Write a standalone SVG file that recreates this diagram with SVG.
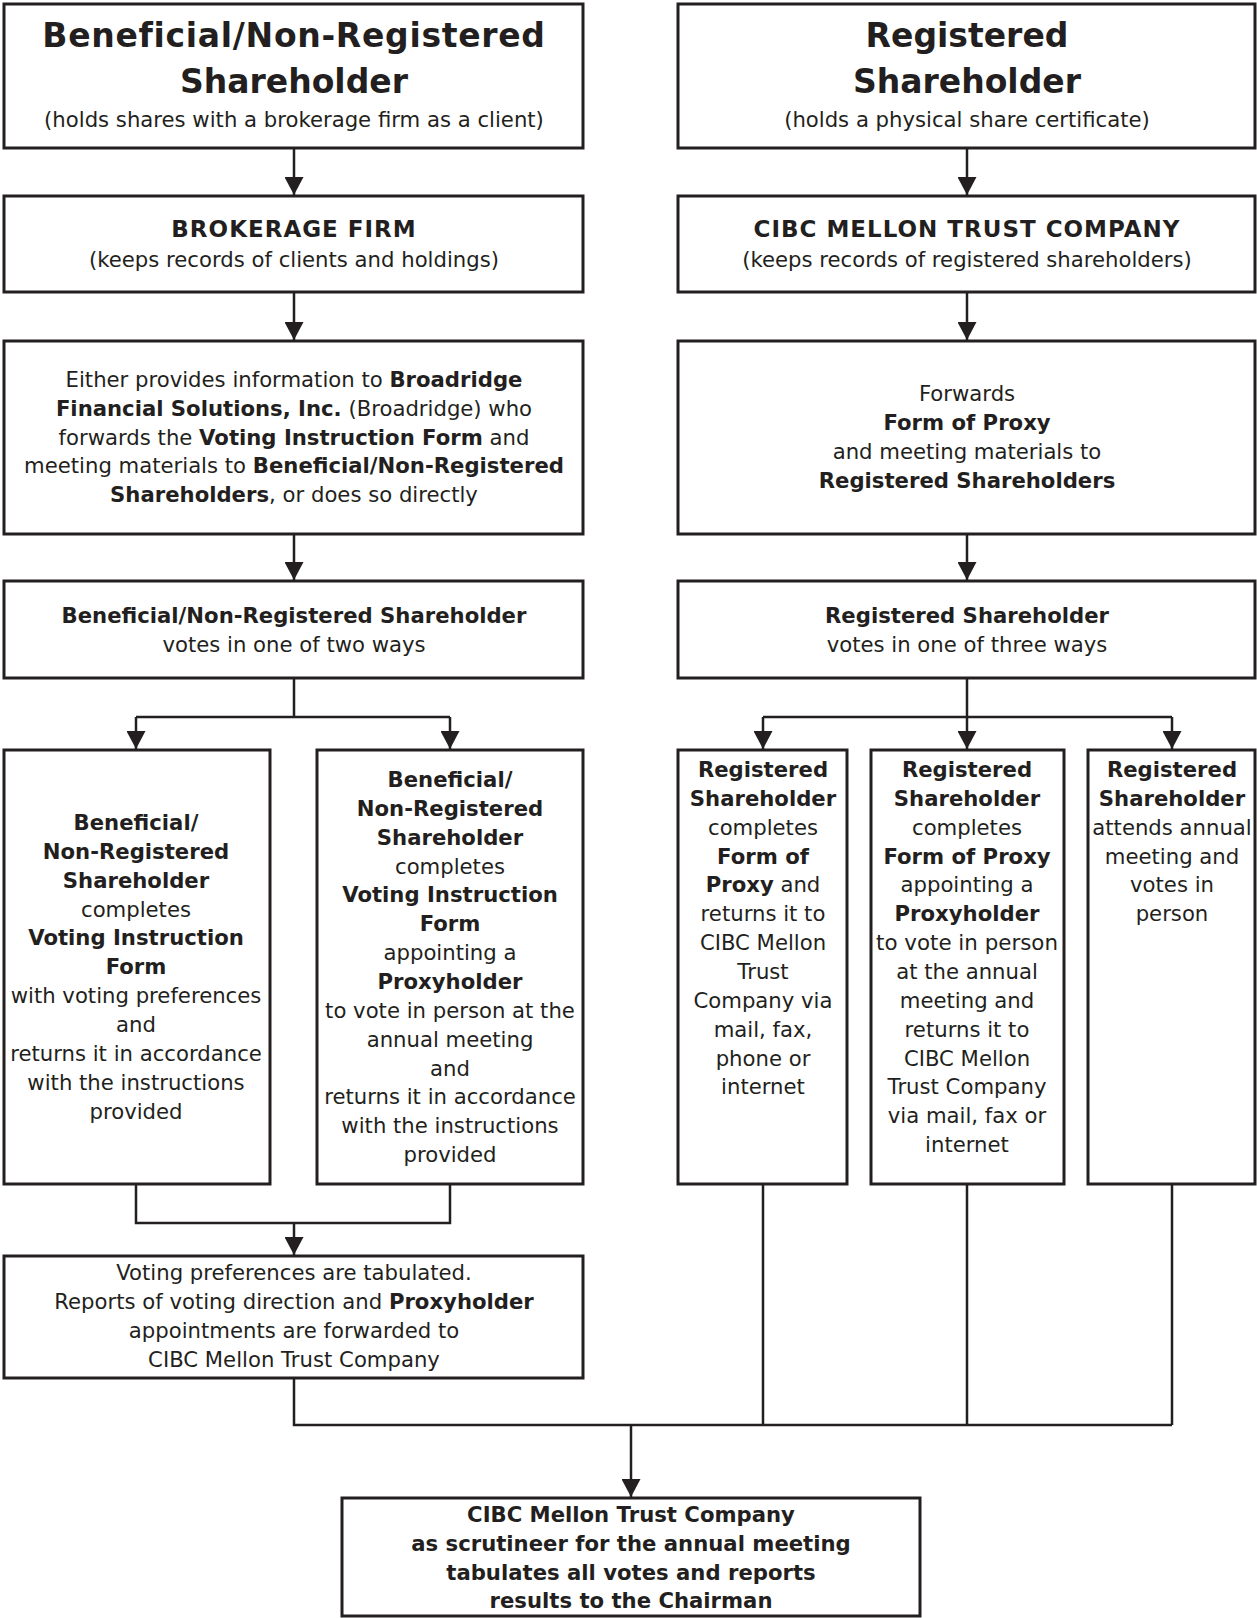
<svg xmlns="http://www.w3.org/2000/svg" width="1257" height="1618" viewBox="0 0 1257 1618">
<style>
.box{fill:#fff;stroke:#231f20;stroke-width:3}
.ln{fill:none;stroke:#231f20;stroke-width:2.5}
.ar{fill:none;stroke:#231f20;stroke-width:2.5;marker-end:url(#ah)}
text{font-family:"DejaVu Sans",Verdana,sans-serif;font-size:21.2px;fill:#231f20;text-anchor:middle}
.b{font-weight:bold}
.t{font-size:33px;font-weight:bold}
.t1{letter-spacing:0.7px}
.cap{font-weight:bold;font-size:23px;letter-spacing:1px}
</style>
<defs>
<marker id="ah" viewBox="0 0 18 19" markerWidth="18" markerHeight="19" refX="18" refY="9.5" orient="auto" markerUnits="userSpaceOnUse">
<path d="M0,0 L18,9.5 L0,19 z" fill="#231f20"/>
</marker>
</defs>
<rect width="1257" height="1618" fill="#fff"/>
<g id="connectors">
<path class="ar" d="M294,148 V195"/>
<path class="ar" d="M967,148 V195"/>
<path class="ar" d="M294,292 V340"/>
<path class="ar" d="M967,292 V340"/>
<path class="ar" d="M294,534 V580"/>
<path class="ar" d="M967,534 V580"/>
<path class="ln" d="M294,678 V717 M136,717 H450"/>
<path class="ar" d="M136,717 V749"/>
<path class="ar" d="M450,717 V749"/>
<path class="ln" d="M967,678 V717 M763,717 H1172"/>
<path class="ar" d="M763,717 V749"/>
<path class="ar" d="M967,717 V749"/>
<path class="ar" d="M1172,717 V749"/>
<path class="ln" d="M136,1184 V1223 H450 V1184"/>
<path class="ar" d="M294,1223 V1255"/>
<path class="ln" d="M294,1378 V1425 H1172 M763,1184 V1425 M967,1184 V1425 M1172,1184 V1425"/>
<path class="ar" d="M631,1425 V1497"/>
</g>
<g id="n-beneficial">
<rect class="box" x="4" y="4" width="579" height="144"/>
<text class="t t1" x="294" y="47">Beneficial/Non-Registered</text>
<text class="t" x="294" y="93">Shareholder</text>
<text x="294" y="127">(holds shares with a brokerage firm as a client)</text>
</g>
<g id="n-registered">
<rect class="box" x="678" y="4" width="577" height="144"/>
<text class="t" x="967" y="47">Registered</text>
<text class="t" x="967" y="93">Shareholder</text>
<text x="967" y="127">(holds a physical share certificate)</text>
</g>
<g id="n-brokerage">
<rect class="box" x="4" y="196" width="579" height="96"/>
<text class="cap" x="294" y="237">BROKERAGE FIRM</text>
<text x="294" y="267">(keeps records of clients and holdings)</text>
</g>
<g id="n-cibc">
<rect class="box" x="678" y="196" width="577" height="96"/>
<text class="cap" x="967" y="237">CIBC MELLON TRUST COMPANY</text>
<text x="967" y="267">(keeps records of registered shareholders)</text>
</g>
<g id="n-either">
<rect class="box" x="4" y="341" width="579" height="193"/>
<text x="294" y="387">Either provides information to <tspan class="b">Broadridge</tspan></text>
<text x="294" y="416"><tspan class="b">Financial Solutions, Inc.</tspan> (Broadridge) who</text>
<text x="294" y="445">forwards the <tspan class="b">Voting Instruction Form</tspan> and</text>
<text x="294" y="473">meeting materials to <tspan class="b">Beneficial/Non-Registered</tspan></text>
<text x="294" y="502"><tspan class="b">Shareholders</tspan>, or does so directly</text>
</g>
<g id="n-forwards">
<rect class="box" x="678" y="341" width="577" height="193"/>
<text x="967" y="401">Forwards</text>
<text class="b" x="967" y="430">Form of Proxy</text>
<text x="967" y="459">and meeting materials to</text>
<text class="b" x="967" y="488">Registered Shareholders</text>
</g>
<g id="n-votes-two">
<rect class="box" x="4" y="581" width="579" height="97"/>
<text class="b" x="294" y="623">Beneficial/Non-Registered Shareholder</text>
<text x="294" y="652">votes in one of two ways</text>
</g>
<g id="n-votes-three">
<rect class="box" x="678" y="581" width="577" height="97"/>
<text class="b" x="967" y="623">Registered Shareholder</text>
<text x="967" y="652">votes in one of three ways</text>
</g>
<g id="n-vif">
<rect class="box" x="4" y="750" width="266" height="434"/>
<text x="136" y="830"><tspan class="b">Beneficial/</tspan><tspan class="b" x="136" dy="28.85">Non-Registered</tspan><tspan class="b" x="136" dy="28.85">Shareholder</tspan><tspan x="136" dy="28.85">completes</tspan><tspan class="b" x="136" dy="28.85">Voting Instruction</tspan><tspan class="b" x="136" dy="28.85">Form</tspan><tspan x="136" dy="28.85">with voting preferences</tspan><tspan x="136" dy="28.85">and</tspan><tspan x="136" dy="28.85">returns it in accordance</tspan><tspan x="136" dy="28.85">with the instructions</tspan><tspan x="136" dy="28.85">provided</tspan></text>
</g>
<g id="n-vif-proxy">
<rect class="box" x="317" y="750" width="266" height="434"/>
<text x="450" y="787"><tspan class="b">Beneficial/</tspan><tspan class="b" x="450" dy="28.85">Non-Registered</tspan><tspan class="b" x="450" dy="28.85">Shareholder</tspan><tspan x="450" dy="28.85">completes</tspan><tspan class="b" x="450" dy="28.85">Voting Instruction</tspan><tspan class="b" x="450" dy="28.85">Form</tspan><tspan x="450" dy="28.85">appointing a</tspan><tspan class="b" x="450" dy="28.85">Proxyholder</tspan><tspan x="450" dy="28.85">to vote in person at the</tspan><tspan x="450" dy="28.85">annual meeting</tspan><tspan x="450" dy="28.85">and</tspan><tspan x="450" dy="28.85">returns it in accordance</tspan><tspan x="450" dy="28.85">with the instructions</tspan><tspan x="450" dy="28.85">provided</tspan></text>
</g>
<g id="n-reg-proxy">
<rect class="box" x="678" y="750" width="169" height="434"/>
<text x="763" y="777"><tspan class="b">Registered</tspan><tspan class="b" x="763" dy="28.85">Shareholder</tspan><tspan x="763" dy="28.85">completes</tspan><tspan class="b" x="763" dy="28.85">Form of</tspan><tspan x="763" dy="28.85"><tspan class="b">Proxy</tspan> and</tspan><tspan x="763" dy="28.85">returns it to</tspan><tspan x="763" dy="28.85">CIBC Mellon</tspan><tspan x="763" dy="28.85">Trust</tspan><tspan x="763" dy="28.85">Company via</tspan><tspan x="763" dy="28.85">mail, fax,</tspan><tspan x="763" dy="28.85">phone or</tspan><tspan x="763" dy="28.85">internet</tspan></text>
</g>
<g id="n-reg-proxyholder">
<rect class="box" x="871" y="750" width="193" height="434"/>
<text x="967" y="777"><tspan class="b">Registered</tspan><tspan class="b" x="967" dy="28.85">Shareholder</tspan><tspan x="967" dy="28.85">completes</tspan><tspan class="b" x="967" dy="28.85">Form of Proxy</tspan><tspan x="967" dy="28.85">appointing a</tspan><tspan class="b" x="967" dy="28.85">Proxyholder</tspan><tspan x="967" dy="28.85" textLength="182" lengthAdjust="spacingAndGlyphs">to vote in person</tspan><tspan x="967" dy="28.85">at the annual</tspan><tspan x="967" dy="28.85">meeting and</tspan><tspan x="967" dy="28.85">returns it to</tspan><tspan x="967" dy="28.85">CIBC Mellon</tspan><tspan x="967" dy="28.85">Trust Company</tspan><tspan x="967" dy="28.85">via mail, fax or</tspan><tspan x="967" dy="28.85">internet</tspan></text>
</g>
<g id="n-reg-person">
<rect class="box" x="1088" y="750" width="167" height="434"/>
<text x="1172" y="777"><tspan class="b">Registered</tspan><tspan class="b" x="1172" dy="28.85">Shareholder</tspan><tspan x="1172" dy="28.85">attends annual</tspan><tspan x="1172" dy="28.85">meeting and</tspan><tspan x="1172" dy="28.85">votes in</tspan><tspan x="1172" dy="28.85">person</tspan></text>
</g>
<g id="n-tabulated">
<rect class="box" x="4" y="1256" width="579" height="122"/>
<text x="294" y="1280">Voting preferences are tabulated.</text>
<text x="294" y="1309">Reports of voting direction and <tspan class="b">Proxyholder</tspan></text>
<text x="294" y="1338">appointments are forwarded to</text>
<text x="294" y="1367">CIBC Mellon Trust Company</text>
</g>
<g id="n-scrutineer">
<rect class="box" x="342" y="1498" width="578" height="118"/>
<text class="b" x="631" y="1522">CIBC Mellon Trust Company</text>
<text class="b" x="631" y="1551">as scrutineer for the annual meeting</text>
<text class="b" x="631" y="1580">tabulates all votes and reports</text>
<text class="b" x="631" y="1608">results to the Chairman</text>
</g>
</svg>
